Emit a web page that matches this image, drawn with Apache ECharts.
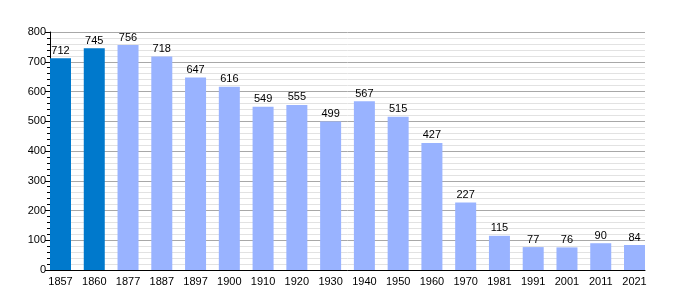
<!DOCTYPE html>
<html><head><meta charset="utf-8">
<script src="https://cdn.jsdelivr.net/npm/echarts@6/dist/echarts.min.js"></script>
<style>html,body{margin:0;padding:0;background:#fff}#c{width:675px;height:300px}</style>
</head><body><div id="c"></div>
<script>
const years = ['1857','1860','1877','1887','1897','1900','1910','1920','1930','1940','1950','1960','1970','1981','1991','2001','2011','2021'];
const population = [712,745,756,718,647,616,549,555,499,567,515,427,227,115,77,76,90,84];
const highlighted = [true,true,false,false,false,false,false,false,false,false,false,false,false,false,false,false,false,false];
const yTicks = [0,100,200,300,400,500,600,700,800];

const darkColor = '#0079CC';
const lightColor = '#99B3FF';
const font = 'Liberation Sans, Arial, sans-serif';

const chart = echarts.init(document.getElementById('c'), null, {renderer:'canvas'});
const plotLeft = 50, plotRight = 645;
const n = years.length;
const step = (plotRight - plotLeft - 21) / (n - 1);
const catLeft = plotLeft + 10.5 - step / 2;
const catWidth = step * n;

chart.setOption({
  animation: false,
  backgroundColor: '#fff',
  grid: [
    {left: catLeft, width: catWidth, top: 32, bottom: 30},
    {left: plotLeft, width: plotRight - plotLeft, top: 32, bottom: 30}
  ],
  xAxis: [
    {type:'category', gridIndex:0, data: years, boundaryGap:true,
     axisLine:{show:false}, axisTick:{show:false},
     axisLabel:{color:'#000', fontSize:11, fontFamily:font, margin:6, interval:0}},
    {type:'value', gridIndex:1, min:0, max:1, show:true,
     axisLine:{show:true, lineStyle:{color:'#000', width:1}}, axisTick:{show:false},
     axisLabel:{show:false}, splitLine:{show:false}}
  ],
  yAxis: [
    {type:'value', gridIndex:0, min:0, max:800, interval:100, show:false},
    {type:'value', gridIndex:1, min:0, max:800, interval:100,
     axisLine:{show:true, lineStyle:{color:'#000'}},
     axisTick:{show:true, length:5, lineStyle:{color:'#000'}},
     minorTick:{show:true, splitNumber:5, length:3, lineStyle:{color:'#000'}},
     axisLabel:{color:'#000', fontSize:11, fontFamily:font, margin:4,
       formatter: v => yTicks.includes(v) ? String(v) : ''},
     splitLine:{show:true, lineStyle:{color:'#a8a8a8', width:1}},
     minorSplitLine:{show:true, lineStyle:{color:'#e2e2e2', width:1}}}
  ],
  series: [{
    type:'bar', xAxisIndex:0, yAxisIndex:0, barWidth:21, z:5,
    data: population.map((v,i)=>({value:v, itemStyle:{color: highlighted[i]?darkColor:lightColor}})),
    label:{show:true, position:'top', distance:2, color:'#000', fontSize:11, fontFamily:font}
  }]
});
</script></body></html>
